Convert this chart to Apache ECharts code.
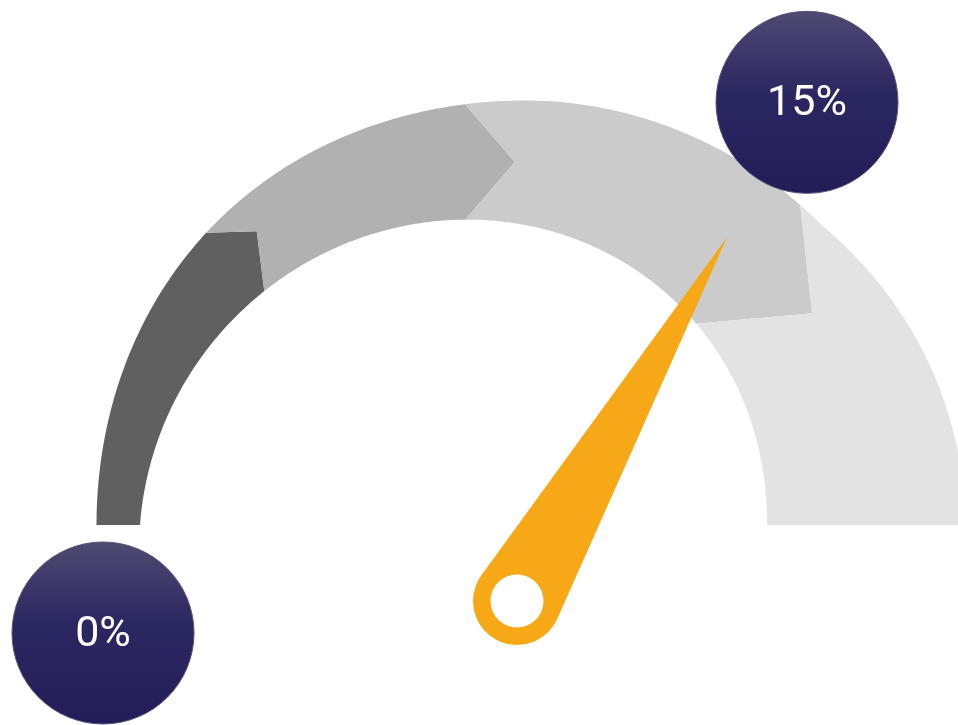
<!DOCTYPE html>
<html><head><meta charset="utf-8">
<script src="https://cdn.jsdelivr.net/npm/echarts@6/dist/echarts.min.js"></script>
<style>html,body{margin:0;padding:0;background:#fff;overflow:hidden}#c{width:958px;height:725px}</style>
</head><body><div id="c"></div>
<script>
// ---- data ----
const scaleMin = 0;
const scaleMax = 22.5;
const bandEnds = [5.3, 10, 16.3, 22.5];
const bandColors = ['#606060', '#b1b1b1', '#cbcbcb', '#e3e3e3'];
const needleValue = 15;
const labelValues = [0, 15];
const labelTexts = ['0%', '15%'];

// ---- layout / style ----
const R_OUT = 428;
const PIVOT_OFF = [-8, 76];
const NEEDLE_LEN = 420;
const BASE_R = 44;
const HOLE_R = 26.5;
const labelOffsets = [[6, 108], [68, -52]];
const LABEL_R = 91;
const cuts = [
  {o: 0.1, i: -0.5, p: 5.2, f: 0.61},
  {o: 1.9, i: -1.1, p: 8.4, f: 0.50},
  {o: 0.3, i: 0.0, p: 13.2, f: 0.59}
];
const outerKnots = [[0, 428.5], [40, 432.5], [90, 424.5], [135, 422]];

function tOf(v) { return (v - scaleMin) / (scaleMax - scaleMin) * 180; }
function vOf(t) { return scaleMin + t / 180 * (scaleMax - scaleMin); }
function rIn(t) { const a = t * Math.PI / 180; return 313.5 + 71.5 * Math.cos(a) - 13.5 * Math.sin(a) - 7.5 * Math.sin(2 * a); }
function rOut(t) {
  if (t > 135) { const f = Math.min(1, (t - 135) / 45); return 422 + 18 * Math.sin(f * Math.PI / 2); }
  for (let k = 0; k < outerKnots.length - 1; k++) {
    const a = outerKnots[k], b = outerKnots[k + 1];
    if (t <= b[0]) { const f = (t - a[0]) / (b[0] - a[0]); const s = (1 - Math.cos(Math.PI * f)) / 2; return a[1] + (b[1] - a[1]) * s; }
  }
  return 422;
}
function boundary(k) {
  const t = tOf(bandEnds[k]); const c = cuts[k];
  const tp = t + c.p;
  return {to: t + c.o, ti: t + c.i, tip: [rIn(tp) + c.f * (rOut(tp) - rIn(tp)), tp]};
}

const chart = echarts.init(document.getElementById('c'), null, {renderer: 'canvas'});
const hidden = {show: false};
chart.setOption({
  animation: false,
  backgroundColor: '#ffffff',
  polar: {center: [525, 525], radius: R_OUT},
  angleAxis: {type: 'value', min: scaleMin, max: scaleMax, startAngle: 180, endAngle: 0, clockwise: true,
    show: false, axisLine: hidden, axisTick: hidden, axisLabel: hidden, splitLine: hidden},
  radiusAxis: {type: 'value', min: 0, max: R_OUT, show: false, axisLine: hidden, axisTick: hidden, axisLabel: hidden, splitLine: hidden},
  series: [
    {
      type: 'custom', coordinateSystem: 'polar', clip: false, z: 1,
      data: bandEnds.map(e => [0, e]),
      renderItem: function (params, api) {
        const k = params.dataIndex;
        const start = k === 0 ? {to: 0, ti: 0, tip: null} : boundary(k - 1);
        const end = k === bandEnds.length - 1 ? {to: 180, ti: 180, tip: null} : boundary(k);
        const P = (r, t) => api.coord([r, vOf(t)]);
        const pts = [];
        const n = Math.max(2, Math.ceil((end.to - start.to) / 0.5));
        for (let j = 0; j <= n; j++) { const t = start.to + (end.to - start.to) * j / n; pts.push(P(rOut(t), t)); }
        if (end.tip) pts.push(P(end.tip[0], end.tip[1]));
        const m = Math.max(2, Math.ceil((end.ti - start.ti) / 0.5));
        for (let j = 0; j <= m; j++) { const t = end.ti - (end.ti - start.ti) * j / m; pts.push(P(rIn(t), t)); }
        if (start.tip) pts.push(P(start.tip[0], start.tip[1]));
        return {type: 'polygon', shape: {points: pts}, style: {fill: bandColors[k]}};
      }
    },
    {
      type: 'custom', coordinateSystem: 'polar', clip: false, z: 2,
      data: [[0, needleValue]],
      renderItem: function (params, api) {
        const v = api.value(1);
        const c0 = api.coord([0, v]);
        const c1 = api.coord([R_OUT, v]);
        const dx = c1[0] - c0[0], dy = c1[1] - c0[1];
        const L = Math.hypot(dx, dy); const ux = dx / L, uy = dy / L;
        const px = c0[0] + PIVOT_OFF[0], py = c0[1] + PIVOT_OFF[1];
        const tip = [px + ux * NEEDLE_LEN, py + uy * NEEDLE_LEN];
        const a = Math.acos(BASE_R / NEEDLE_LEN);
        const ca = Math.cos(a), sa = Math.sin(a);
        const t1 = [px + BASE_R * (ux * ca - uy * sa), py + BASE_R * (ux * sa + uy * ca)];
        const t2 = [px + BASE_R * (ux * ca + uy * sa), py + BASE_R * (-ux * sa + uy * ca)];
        return {type: 'group', children: [
          {type: 'polygon', shape: {points: [tip, t1, t2]}, style: {fill: '#f6a816'}},
          {type: 'circle', shape: {cx: px, cy: py, r: BASE_R}, style: {fill: '#f6a816'}},
          {type: 'circle', shape: {cx: px, cy: py, r: HOLE_R}, style: {fill: '#ffffff'}}
        ]};
      }
    },
    {
      type: 'custom', coordinateSystem: 'polar', clip: false, z: 3,
      data: labelValues.map(v => [R_OUT, v]),
      renderItem: function (params, api) {
        const i = params.dataIndex;
        const p = api.coord([api.value(0), api.value(1)]);
        const x = p[0] + labelOffsets[i][0], y = p[1] + labelOffsets[i][1];
        return {type: 'group', children: [
          {type: 'circle', shape: {cx: x, cy: y, r: LABEL_R},
            style: {fill: new echarts.graphic.LinearGradient(0, 0, 0, 1, [
              {offset: 0, color: '#4e4a72'}, {offset: 0.45, color: '#2b2761'}, {offset: 1, color: '#221d57'}]),
              stroke: '#55527a', lineWidth: 1}},
          {type: 'text', style: {text: labelTexts[i], x: x, y: y + 2, fill: '#ffffff',
            font: '400 43px Roboto, "Open Sans", sans-serif', align: 'center', verticalAlign: 'middle'}}
        ]};
      }
    }
  ]
});
</script></body></html>
